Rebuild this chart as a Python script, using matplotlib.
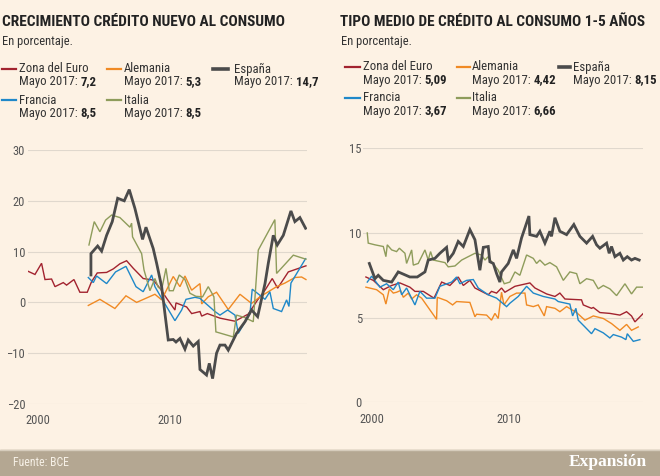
import matplotlib
matplotlib.use('Agg')
import matplotlib.pyplot as plt
from matplotlib.lines import Line2D
from matplotlib.patches import Rectangle
from matplotlib.text import Annotation
from matplotlib import font_manager

# fuente estrecha si existe
nombres = {f.name for f in font_manager.fontManager.ttflist}
narrow = 'Roboto'
for cand in ['Liberation Sans Narrow', 'Roboto Condensed', 'Open Sans Condensed']:
    if cand in nombres:
        narrow = cand
        break
plt.rcParams['font.family'] = [narrow, 'DejaVu Sans']

# ---------------- Datos: crecimiento crédito nuevo al consumo (%) ----------------
euro_cr_x = [1999.16, 1999.75, 2000.25, 2000.51, 2001.01, 2001.27, 2001.90, 2002.15, 2002.71, 2003.16,
             2003.72, 2004.05, 2004.48, 2005.19, 2005.70, 2006.20, 2006.71, 2007.22, 2007.97, 2008.73,
             2009.24, 2009.75, 2010.38, 2010.46, 2011.27, 2011.65, 2012.28, 2012.41, 2012.84, 2013.80,
             2014.94, 2015.95, 2016.66, 2017.22, 2017.77, 2018.18, 2018.99, 2020.33]
euro_cr_y = [6.2, 5.5, 7.7, 4.5, 4.6, 3.1, 3.9, 3.4, 4.5, 2.0,
             2.0, 4.1, 5.8, 5.9, 6.6, 7.6, 8.2, 6.7, 4.7, 4.4,
             2.8, 0.8, -1.5, -0.1, -0.9, -2.2, -1.8, -2.7, -2.2, -3.1,
             -3.7, -2.3, 0.5, 2.4, 4.7, 2.8, 6.0, 7.2]

ale_cr_x = [2003.80, 2004.68, 2005.82, 2006.66, 2007.47, 2008.86, 2009.37, 2010.25, 2010.76, 2011.14,
            2011.65, 2012.28, 2012.41, 2012.91, 2013.54, 2014.43, 2015.32, 2016.20, 2016.84, 2017.47,
            2018.10, 2018.73, 2019.49, 2020.00, 2020.33]
ale_cr_y = [-0.6, 0.6, -1.2, 1.3, 0.0, 1.6, 0.5, 5.1, 3.1, 5.2,
            2.4, 3.7, -0.3, 1.1, 2.0, -1.4, 1.6, -0.2, 1.1, 2.1,
            3.1, 3.8, 4.9, 5.0, 4.5]

esp_cr_x = [2004.00, 2004.00, 2004.51, 2004.81, 2005.19, 2005.62, 2006.03, 2006.53, 2006.91, 2007.34,
            2007.92, 2008.18, 2008.73, 2008.99, 2009.37, 2009.62, 2009.87, 2010.25, 2010.46, 2010.76,
            2011.14, 2011.39, 2011.77, 2012.15, 2012.28, 2012.78, 2012.99, 2013.24, 2013.54, 2013.80,
            2014.18, 2014.43, 2015.06, 2015.70, 2016.20, 2016.66, 2017.22, 2017.47, 2017.85, 2018.15,
            2018.61, 2019.19, 2019.49, 2019.87, 2020.30]
esp_cr_y = [5.4, 9.6, 11.1, 10.1, 13.2, 15.9, 20.5, 20.0, 22.2, 18.5,
            12.4, 14.8, 10.6, 7.7, 3.1, -2.2, -7.4, -7.3, -7.8, -7.1,
            -9.2, -7.4, -8.6, -7.7, -13.2, -14.3, -12.0, -15.0, -10.0, -8.4,
            -8.4, -9.4, -6.1, -3.8, -1.5, -2.8, 3.7, 7.7, 13.2, 11.3,
            13.2, 18.0, 15.9, 16.7, 14.6]

fra_cr_x = [2003.80, 2004.18, 2004.43, 2005.19, 2005.87, 2006.66, 2007.42, 2007.97, 2008.61, 2008.86,
            2009.44, 2010.38, 2010.89, 2011.22, 2011.90, 2012.28, 2013.42, 2013.80, 2014.38, 2014.94,
            2015.19, 2016.08, 2016.25, 2016.84, 2017.22, 2017.59, 2017.85, 2018.48, 2018.86, 2019.04,
            2019.19, 2020.30]
fra_cr_y = [4.9, 3.9, 5.2, 3.7, 6.0, 7.1, 3.1, 2.1, 5.4, 3.1,
            0.5, -3.6, -1.5, 0.6, 1.0, 0.8, -1.8, -2.5, -1.5, -2.5,
            -6.1, -2.2, 2.6, 1.4, 0.6, 2.1, -1.2, -1.8, 0.5, -0.8,
            3.8, 8.6]

ita_cr_x = [2003.85, 2004.25, 2004.68, 2005.11, 2005.57, 2006.20, 2006.96, 2007.09, 2007.16, 2007.85,
            2008.03, 2008.48, 2008.86, 2009.11, 2009.37, 2009.70, 2009.95, 2010.25, 2010.71, 2011.14,
            2011.52, 2011.97, 2012.48, 2012.91, 2013.34, 2013.49, 2014.81, 2015.06, 2015.70, 2016.33,
            2016.71, 2017.97, 2018.10, 2019.37, 2020.33]
ita_cr_y = [11.3, 15.9, 13.9, 16.2, 17.2, 16.7, 14.8, 15.6, 12.9, 9.6,
            6.4, 2.3, 4.7, 3.0, 2.5, 6.7, 2.3, 2.3, 5.4, 4.5,
            1.8, 1.2, 1.1, 3.1, 1.1, -5.8, -6.8, -2.5, -3.0, -3.8,
            10.3, 16.3, 5.7, 9.3, 8.5]

# ---------------- Datos: tipo medio crédito al consumo 1-5 años (%) ----------------
euro_tp_x = [1999.56, 2000.10, 2000.83, 2001.44, 2002.04, 2002.77, 2003.14, 2003.75, 2004.53, 2005.09,
             2005.69, 2006.30, 2006.67, 2007.15, 2007.52, 2008.49, 2008.73, 2009.10, 2009.46, 2009.71,
             2010.44, 2011.53, 2011.90, 2012.75, 2013.36, 2013.72, 2014.09, 2015.30, 2015.43, 2016.03,
             2016.16, 2016.64, 2017.37, 2018.10, 2018.59, 2018.95, 2019.20, 2019.81]
euro_tp_y = [7.4, 7.2, 6.65, 6.9, 7.05, 6.8, 6.55, 6.55, 6.15, 7.1,
             6.9, 7.4, 6.9, 7.2, 6.75, 6.35, 6.55, 6.45, 6.75, 6.5,
             6.85, 7.05, 6.75, 6.4, 6.25, 6.45, 6.1, 6.05, 5.75, 5.55,
             5.6, 5.3, 5.25, 5.15, 5.35, 5.1, 4.75, 5.25]

ale_tp_x = [1999.56, 2000.34, 2000.83, 2001.02, 2001.27, 2001.56, 2001.80, 2002.09, 2002.29, 2002.65,
            2002.90, 2003.26, 2003.63, 2004.72, 2004.77, 2005.45, 2005.89, 2006.18, 2007.15, 2007.52,
            2007.64, 2008.37, 2008.73, 2008.98, 2009.22, 2009.46, 2009.64, 2010.07, 2010.56, 2011.17,
            2011.29, 2011.78, 2012.14, 2012.58, 2012.75, 2013.36, 2013.72, 2014.21, 2014.94, 2015.55,
            2016.16, 2016.89, 2017.49, 2018.10, 2018.59, 2018.95, 2019.44]
ale_tp_y = [6.8, 6.65, 6.35, 5.8, 6.7, 6.45, 6.5, 6.6, 6.2, 6.45,
            6.1, 6.35, 6.15, 4.9, 6.2, 6.0, 5.75, 5.95, 5.9, 5.05,
            5.2, 5.15, 4.85, 5.25, 4.95, 6.5, 5.75, 6.25, 6.45, 6.45,
            5.75, 5.65, 5.75, 5.1, 5.65, 5.55, 5.35, 5.65, 5.3, 4.85,
            5.1, 4.95, 4.65, 4.25, 4.6, 4.25, 4.45]

esp_tp_x = [1999.81, 2000.22, 2000.46, 2000.83, 2001.44, 2001.92, 2002.77, 2003.31, 2003.87, 2004.11,
            2004.60, 2004.96, 2005.45, 2005.57, 2005.94, 2006.30, 2006.67, 2007.15, 2007.52, 2007.88,
            2008.13, 2008.49, 2008.61, 2008.86, 2009.10, 2009.34, 2009.46, 2009.95, 2010.32, 2010.56,
            2010.92, 2011.46, 2011.53, 2012.02, 2012.26, 2012.63, 2012.99, 2013.11, 2013.36, 2013.72,
            2014.21, 2014.74, 2015.18, 2015.67, 2016.11, 2016.40, 2016.64, 2017.13, 2017.32, 2017.49,
            2017.74, 2018.10, 2018.35, 2018.64, 2018.95, 2019.20, 2019.51]
esp_tp_y = [8.2, 7.3, 7.5, 7.2, 7.1, 7.7, 7.4, 7.4, 7.7, 8.4,
            8.5, 8.8, 9.15, 8.4, 8.8, 9.5, 9.2, 10.2, 9.6, 7.8,
            9.15, 9.2, 8.3, 8.2, 7.6, 7.1, 7.7, 8.2, 9.0, 8.5,
            9.7, 11.0, 9.9, 9.8, 10.1, 9.4, 10.1, 9.8, 10.9, 10.1,
            9.9, 10.5, 9.8, 9.4, 9.8, 9.3, 9.1, 9.4, 8.8, 9.2,
            8.6, 8.8, 8.4, 8.6, 8.4, 8.5, 8.4]

fra_tp_x = [1999.66, 1999.98, 2000.58, 2001.07, 2001.56, 2001.92, 2002.17, 2002.53, 2003.14, 2003.50,
            2003.99, 2004.60, 2004.96, 2005.82, 2006.18, 2006.42, 2006.91, 2007.40, 2007.76, 2008.49,
            2009.10, 2009.83, 2010.07, 2010.68, 2011.29, 2011.78, 2012.51, 2013.36, 2013.60, 2014.45,
            2014.65, 2014.89, 2015.06, 2015.55, 2016.03, 2016.28, 2016.89, 2017.37, 2017.62, 2018.22,
            2018.54, 2018.64, 2019.08, 2019.56]
fra_tp_y = [7.1, 7.45, 6.8, 7.0, 6.65, 7.1, 6.35, 6.75, 5.75, 6.55,
            6.15, 6.15, 6.85, 7.1, 7.4, 7.0, 7.2, 7.25, 6.75, 6.35,
            6.15, 5.65, 5.85, 6.25, 6.85, 6.45, 6.25, 6.1, 5.95, 5.8,
            5.1, 5.55, 4.85, 4.45, 4.05, 4.35, 4.1, 3.8, 4.0, 3.85,
            3.7, 4.05, 3.6, 3.7]

ita_tp_x = [1999.66, 1999.73, 2000.22, 2000.83, 2001.02, 2001.12, 2001.44, 2001.80, 2002.00, 2002.41,
            2002.53, 2002.90, 2003.02, 2003.38, 2003.87, 2004.11, 2004.28, 2004.48, 2005.33, 2005.57,
            2006.06, 2006.55, 2007.03, 2007.52, 2008.00, 2008.25, 2008.49, 2008.73, 2009.22, 2009.66,
            2010.07, 2010.44, 2010.80, 2011.29, 2011.78, 2012.02, 2012.26, 2012.63, 2012.99, 2013.48,
            2013.97, 2014.45, 2014.94, 2015.18, 2015.67, 2016.16, 2016.52, 2016.89, 2017.37, 2017.86,
            2018.47, 2018.95, 2019.32, 2019.81]
ita_tp_y = [10.0, 9.4, 9.3, 9.2, 8.6, 9.3, 9.0, 8.9, 9.1, 8.8,
            8.2, 9.0, 8.1, 8.2, 9.0, 8.4, 8.9, 8.4, 8.25, 8.0,
            8.05, 8.4, 8.6, 8.8, 8.7, 8.4, 8.6, 8.3, 7.8, 7.0,
            7.1, 7.7, 7.5, 8.7, 8.5, 8.2, 8.4, 8.1, 8.25, 8.0,
            7.2, 7.7, 7.6, 7.0, 7.3, 7.2, 6.7, 6.9, 6.7, 6.3,
            7.0, 6.4, 6.8, 6.8]

paises = ['Zona del Euro', 'Alemania', 'España', 'Francia', 'Italia']
ultimo_cr = ['7,2', '5,3', '14,7', '8,5', '8,5']
ultimo_tp = ['5,09', '4,42', '8,15', '3,67', '6,66']

colores = {'Zona del Euro': '#a2232f', 'Alemania': '#f08a24', 'España': '#4b4b4b',
           'Francia': '#1f88c9', 'Italia': '#8e9c5b'}
grosor = {'Zona del Euro': 1.0, 'Alemania': 1.0, 'España': 2.0, 'Francia': 1.0, 'Italia': 1.0}

fondo = '#fdf2e4'
W, H = 660, 476


def fx(px):
    return px / W


def fy(py):
    return 1 - py / H


fig = plt.figure(figsize=(6.6, 4.76), dpi=100, facecolor=fondo)

ax1 = fig.add_axes([fx(28), fy(404), 279 / W, 254 / H])
ax2 = fig.add_axes([fx(363.3), fy(402.3), 280 / W, 254 / H])

series_cr = {'Zona del Euro': (euro_cr_x, euro_cr_y), 'Alemania': (ale_cr_x, ale_cr_y),
             'Francia': (fra_cr_x, fra_cr_y), 'Italia': (ita_cr_x, ita_cr_y),
             'España': (esp_cr_x, esp_cr_y)}
series_tp = {'Zona del Euro': (euro_tp_x, euro_tp_y), 'Alemania': (ale_tp_x, ale_tp_y),
             'Francia': (fra_tp_x, fra_tp_y), 'Italia': (ita_tp_x, ita_tp_y),
             'España': (esp_tp_x, esp_tp_y)}

for ax, series in [(ax1, series_cr), (ax2, series_tp)]:
    ax.set_facecolor(fondo)
    for nombre, (xs, ys) in series.items():
        ax.plot(xs, ys, color=colores[nombre], lw=grosor[nombre], solid_joinstyle='miter')
    for s in ax.spines.values():
        s.set_visible(False)
    ax.grid(axis='y', color='#e0d8cd', lw=0.8)
    ax.set_axisbelow(True)
    ax.set_xticks([2000, 2010])
    ax.tick_params(length=0, labelsize=9, labelcolor='#555555')

ax1.set_xlim(1999.22, 2020.41)
ax1.set_ylim(-20, 30)
ax1.set_yticks([-20, -10, 0, 10, 20, 30])
ax1.tick_params(axis='x', pad=7.5)
ax1.tick_params(axis='y', pad=2)

ax2.set_xlim(1999.37, 2019.81)
ax2.set_ylim(0, 15)
ax2.set_yticks([0, 5, 10, 15])
ax2.tick_params(axis='x', pad=8)
ax2.tick_params(axis='y', pad=1)

# títulos
txt = '#222222'
t1 = fig.text(fx(2), fy(22), 'CRECIMIENTO CRÉDITO NUEVO AL CONSUMO', fontsize=14,
              fontweight='bold', color=txt, va='center', ha='left')
t2 = fig.text(fx(340), fy(22), 'TIPO MEDIO DE CRÉDITO AL CONSUMO 1-5 AÑOS', fontsize=14,
              fontweight='bold', color=txt, va='center', ha='left')
fig.text(fx(2), fy(42), 'En porcentaje.', fontsize=9, color='#333333', va='center')
fig.text(fx(341), fy(42), 'En porcentaje.', fontsize=9, color='#333333', va='center')

# ajustar ancho de los títulos
fig.canvas.draw()
r = fig.canvas.get_renderer()
for t, ancho in [(t1, 285), (t2, 307)]:
    w = t.get_window_extent(r).width
    t.set_fontsize(14 * ancho / w)

# leyendas
def leyenda(x_lin, x_txt, y, nombre, valor):
    fig.add_artist(Line2D([fx(x_lin[0]), fx(x_lin[1])], [fy(y), fy(y)], color=colores[nombre],
                          lw=1.6 if nombre != 'España' else 2.6, transform=fig.transFigure))
    fig.text(fx(x_txt), fy(y), nombre, fontsize=9.2, color='#333333', va='center')
    m = fig.text(fx(x_txt), fy(y + 13), 'Mayo 2017: ', fontsize=9.2, color='#333333', va='center')
    fig.add_artist(Annotation(valor, xy=(1, 0), xycoords=m, va='bottom', ha='left',
                              fontsize=9.2, fontweight='bold', color='#222222'))


pos_izq = [((2, 16), 19, 69), ((107, 121), 124, 69), ((213, 228), 234, 69),
           ((2, 16), 19, 100), ((107, 121), 124, 100)]
pos_der = [((345, 360), 363, 67), ((457, 470), 472, 67), ((559, 570), 573, 67),
           ((345, 360), 363, 98), ((457, 470), 472, 98)]
for (xl, xt, y), nombre, valor in zip(pos_izq, paises, ultimo_cr):
    leyenda(xl, xt, y, nombre, valor)
for (xl, xt, y), nombre, valor in zip(pos_der, paises, ultimo_tp):
    leyenda(xl, xt, y, nombre, valor)

# pie
fig.add_artist(Rectangle((0, 0), 1, fy(450), transform=fig.transFigure, color='#b4a792', zorder=0))
fig.add_artist(Line2D([0, 1], [fy(450), fy(450)], color='#d6ccbc', lw=1, transform=fig.transFigure))
fig.text(fx(13), fy(463), 'Fuente: BCE', fontsize=8.5, color='#f6f0e6', va='center')
fig.text(fx(647), fy(462), 'Expansión', fontsize=12.5, fontweight='bold', color='#ffffff',
         va='center', ha='right', family=['Liberation Serif', 'DejaVu Serif'])

fig.savefig('out.png', dpi=100, facecolor=fondo)
